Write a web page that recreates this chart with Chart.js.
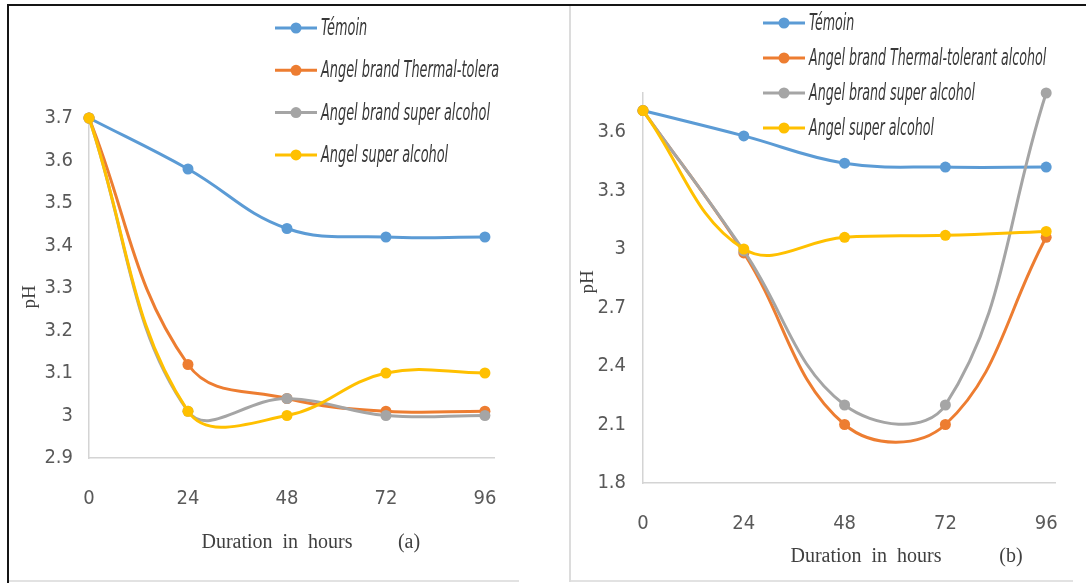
<!DOCTYPE html>
<html><head><meta charset="utf-8">
<script src="https://cdn.jsdelivr.net/npm/chart.js@4/dist/chart.umd.min.js"></script>
<style>
html,body{margin:0;padding:0;background:#fff;width:1086px;height:583px;overflow:hidden;position:relative}
.ln{position:absolute}
#cA{position:absolute;left:9px;top:6px}
#cB{position:absolute;left:571px;top:6px}
</style></head><body>
<div class="ln" style="left:7px;top:4px;width:1079px;height:2px;background:#151515"></div>
<div class="ln" style="left:7px;top:4px;width:2px;height:579px;background:#151515"></div>
<div class="ln" style="left:9px;top:580px;width:510px;height:2px;background:#e2e2e2"></div>
<div class="ln" style="left:569px;top:6px;width:2px;height:576px;background:#dcdcdc"></div>
<div class="ln" style="left:571px;top:580px;width:502px;height:2px;background:#e2e2e2"></div>
<canvas id="cA" width="510" height="574"></canvas>
<canvas id="cB" width="502" height="574"></canvas>
<script>
// ---- data ----
const hours = [0, 24, 48, 72, 96];
const xTicks = [0, 24, 48, 72, 96];
const legendA = ['Témoin', 'Angel brand Thermal-tolera', 'Angel brand super alcohol', 'Angel super alcohol'];
const legendB = ['Témoin', 'Angel brand Thermal-tolerant alcohol', 'Angel brand super alcohol', 'Angel super alcohol'];
const temoinA = [3.70, 3.58, 3.44, 3.42, 3.42];
const thermalA = [3.70, 3.12, 3.04, 3.01, 3.01];
const brandSuperA = [3.70, 3.01, 3.04, 3.00, 3.00];
const superA = [3.70, 3.01, 3.00, 3.10, 3.10];
const temoinB = [3.71, 3.58, 3.44, 3.42, 3.42];
const thermalB = [3.71, 2.98, 2.10, 2.10, 3.06];
const brandSuperB = [3.71, 2.99, 2.20, 2.20, 3.80];
const superB = [3.71, 3.00, 3.06, 3.07, 3.09];
const yTicksA = [2.9, 3.0, 3.1, 3.2, 3.3, 3.4, 3.5, 3.6, 3.7];
const yTicksB = [1.8, 2.1, 2.4, 2.7, 3.0, 3.3, 3.6];

const colors = ['#5B9BD5', '#ED7D31', '#A5A5A5', '#FFC000'];
const NARROW = "'Liberation Sans Narrow','DejaVu Sans Condensed','Liberation Sans',sans-serif";
const SERIF = "'Liberation Serif','DejaVu Serif',serif";

function mkDatasets(names, arrs) {
  return arrs.map((a, i) => ({
    label: names[i],
    data: hours.map((h, j) => ({x: h, y: a[j]})),
    borderColor: colors[i], backgroundColor: colors[i],
    pointBackgroundColor: colors[i], pointBorderWidth: 0,
    pointRadius: 5.5, borderWidth: 3, tension: 0.4,
    clip: false,
    order: 4 - i
  }));
}

const decor = {
  id: 'decor',
  afterDraw(chart, args, o) {
    const ctx = chart.ctx;
    ctx.save();
    // legend
    ctx.font = "italic 23px " + NARROW;
    const sx = o.refWidth / ctx.measureText('Angel brand super alcohol').width;
    chart.data.datasets.forEach((ds, i) => {
      const y = o.legY + i * o.legDy;
      ctx.strokeStyle = ds.borderColor; ctx.lineWidth = 3;
      ctx.beginPath(); ctx.moveTo(o.legX, y); ctx.lineTo(o.legX + 42, y); ctx.stroke();
      ctx.fillStyle = ds.borderColor;
      ctx.beginPath(); ctx.arc(o.legX + 21, y, 5.5, 0, Math.PI * 2); ctx.fill();
      ctx.save();
      ctx.translate(o.legX + 46, y);
      ctx.scale(sx, 1);
      ctx.fillStyle = '#383838'; ctx.textBaseline = 'middle'; ctx.textAlign = 'left';
      ctx.fillText(o.names[i], 0, 1);
      ctx.restore();
    });
    // axis titles
    ctx.fillStyle = '#404040';
    ctx.textAlign = 'center'; ctx.textBaseline = 'middle';
    ctx.font = "20px " + SERIF;
    ctx.fillText('Duration  in  hours', o.xtX, o.xtY);
    ctx.fillText(o.tag, o.tagX, o.xtY);
    ctx.save();
    ctx.translate(o.ytX, o.ytY);
    ctx.rotate(-Math.PI / 2);
    ctx.font = "19px " + SERIF;
    ctx.fillText('pH', 0, 0);
    ctx.restore();
    ctx.restore();
  }
};

function mkChart(id, datasets, yMin, yMax, yTicks, xMax, pad, yW, xH, tickPadY, dec) {
  return new Chart(document.getElementById(id), {
    type: 'line',
    data: {datasets},
    options: {
      responsive: false, animation: false,
      layout: {padding: pad},
      plugins: {legend: {display: false}, tooltip: {enabled: false}, decor: dec},
      scales: {
        x: {
          type: 'linear', min: 0, max: xMax,
          afterBuildTicks: ax => { ax.ticks = xTicks.map(v => ({value: v})); },
          afterFit: ax => { ax.height = xH; ax.paddingLeft = 0; ax.paddingRight = 0; },
          grid: {display: false, drawTicks: false},
          border: {display: true, color: '#d4d4d4', width: 1.5},
          ticks: {padding: 29, color: '#595959', font: {family: NARROW, size: 20}, maxRotation: 0, autoSkip: false}
        },
        y: {
          min: yMin, max: yMax,
          afterBuildTicks: ax => { ax.ticks = yTicks.map(v => ({value: v})); },
          afterFit: ax => { ax.width = yW; ax.paddingTop = 0; ax.paddingBottom = 0; },
          grid: {display: false, drawTicks: false},
          border: {display: true, color: '#d4d4d4', width: 1.5},
          ticks: {padding: tickPadY, color: '#595959', font: {family: NARROW, size: 20},
                  callback: v => String(Math.round(v * 10) / 10)}
        }
      }
    },
    plugins: [decor]
  });
}

mkChart('cA', mkDatasets(legendA, [temoinA, thermalA, brandSuperA, superA]),
  2.9, 3.7, yTicksA, 98.2, {top: 112, right: 25, left: 0, bottom: 0}, 80, 122, 16,
  {names: legendA, legX: 266, legY: 22, legDy: 42.3, refWidth: 169,
   xtX: 268, xtY: 537, tag: '(a)', tagX: 400, ytX: 21, ytY: 291});

mkChart('cB', mkDatasets(legendB, [temoinB, thermalB, brandSuperB, superB]),
  1.8, 3.8, yTicksB, 98.1, {top: 87, right: 18, left: 0, bottom: 0}, 72, 97, 17,
  {names: legendB, legX: 192, legY: 17, legDy: 35, refWidth: 166,
   xtX: 295, xtY: 551, tag: '(b)', tagX: 440, ytX: 17, ytY: 276});
</script>
</body></html>
